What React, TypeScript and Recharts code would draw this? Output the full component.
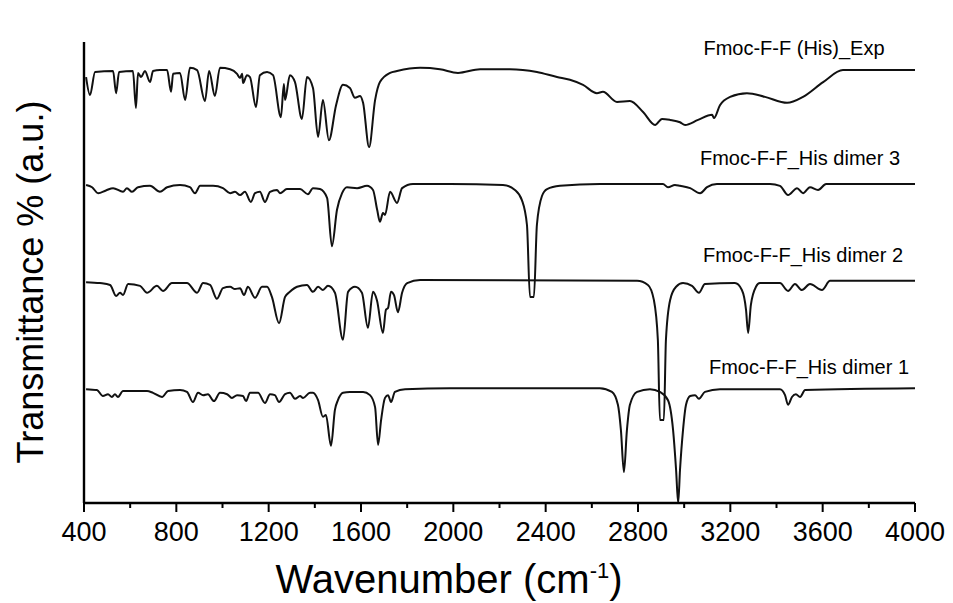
import { Line, LineChart, XAxis, YAxis } from "recharts";

// wavenumber (cm-1), transmittance (a.u., stacked)
const expSpectrum: [number, number][] = [
  [409, 92.4], [426, 88.5], [448, 93.5], [526, 93.7], [539, 88.9], [552, 93.5],
  [612, 93.7], [625, 85.7], [634, 93.3], [647, 92.4], [664, 93.7], [686, 91.3],
  [699, 93.7], [729, 93.9], [760, 93.9], [777, 89.2], [786, 93.1], [816, 93.3],
  [838, 87.4], [859, 94.4], [890, 93.9], [924, 87.2], [942, 93.7], [967, 88.3],
  [989, 94.4], [1033, 94.1], [1063, 93.1], [1076, 92.2], [1085, 93.1], [1089, 91.1],
  [1106, 92.8], [1119, 92.4], [1145, 85.9], [1162, 92.8], [1193, 93.5], [1219, 92.8],
  [1253, 83.7], [1266, 90.9], [1271, 87.4], [1292, 92.8], [1314, 91.3], [1344, 83.3],
  [1366, 92.4], [1392, 90.0], [1414, 79.4], [1435, 87.4], [1461, 78.7], [1492, 86.3],
  [1522, 90.7], [1552, 90.0], [1574, 87.9], [1596, 88.3], [1609, 86.8], [1635, 77.2],
  [1661, 87.4], [1682, 91.3], [1726, 93.3], [1756, 93.7], [1856, 94.4], [1942, 94.1],
  [2020, 93.3], [2116, 94.1], [2245, 94.1], [2362, 93.5], [2449, 92.4], [2505, 91.8],
  [2562, 90.7], [2622, 88.9], [2648, 89.2], [2709, 87.0], [2765, 87.2], [2822, 84.8],
  [2874, 82.0], [2904, 83.3], [2939, 83.1], [2982, 82.6], [3004, 82.0], [3060, 83.1],
  [3121, 84.2], [3129, 83.5], [3155, 86.3], [3199, 88.1], [3272, 88.9], [3350, 88.1],
  [3446, 86.8], [3515, 88.1], [3602, 91.3], [3688, 93.9], [3849, 93.9], [4000, 93.9],
];

const dimer3: [number, number][] = [
  [409, 69.0], [435, 68.5], [461, 67.2], [495, 67.8], [526, 68.3], [569, 67.5],
  [586, 68.3], [608, 67.5], [634, 68.5], [686, 68.8], [729, 67.5], [760, 68.5],
  [816, 69.0], [859, 68.5], [881, 67.2], [903, 68.8], [959, 68.8], [1002, 68.3],
  [1033, 67.2], [1054, 67.5], [1076, 66.8], [1097, 67.5], [1123, 65.3], [1141, 67.2],
  [1162, 67.5], [1184, 65.3], [1206, 67.5], [1236, 67.9], [1249, 67.2], [1279, 68.1],
  [1336, 68.1], [1370, 67.0], [1392, 68.3], [1422, 68.1], [1453, 66.2], [1474, 55.7],
  [1496, 63.6], [1518, 67.2], [1539, 68.5], [1583, 68.3], [1626, 68.8], [1652, 67.9],
  [1670, 63.6], [1682, 61.0], [1695, 62.9], [1704, 62.5], [1726, 67.5], [1756, 65.1],
  [1778, 68.3], [1825, 69.2], [1986, 69.2], [2215, 69.0], [2267, 67.9], [2297, 65.7],
  [2319, 60.3], [2332, 44.7], [2349, 44.7], [2362, 60.3], [2384, 66.6], [2406, 68.1],
  [2462, 68.8], [2635, 69.2], [2908, 69.2], [2930, 68.5], [2960, 69.0], [2982, 68.8],
  [3026, 68.3], [3069, 67.2], [3099, 68.5], [3142, 69.2], [3372, 69.2], [3415, 68.8],
  [3450, 66.8], [3489, 68.3], [3515, 67.2], [3545, 68.5], [3580, 67.9], [3615, 69.2],
  [4000, 69.2],
];

const dimer2: [number, number][] = [
  [409, 47.9], [469, 47.7], [513, 47.3], [539, 44.9], [556, 45.6], [569, 45.1],
  [591, 47.5], [643, 47.1], [673, 45.6], [716, 47.1], [742, 46.0], [781, 47.7],
  [846, 47.7], [890, 45.6], [916, 47.7], [946, 47.3], [976, 44.3], [1002, 46.6],
  [1033, 46.9], [1054, 46.4], [1076, 46.6], [1093, 45.1], [1110, 46.9], [1141, 44.5],
  [1171, 46.9], [1193, 46.9], [1214, 44.7], [1245, 39.0], [1271, 44.7], [1292, 45.8],
  [1323, 46.9], [1366, 47.3], [1392, 45.8], [1414, 46.9], [1435, 46.2], [1457, 47.1],
  [1487, 45.6], [1522, 35.4], [1544, 45.8], [1574, 46.9], [1604, 45.6], [1630, 38.0],
  [1652, 45.8], [1669, 44.0], [1695, 36.9], [1708, 41.9], [1717, 42.3], [1730, 45.8],
  [1743, 45.1], [1760, 41.4], [1778, 45.6], [1800, 47.7], [1856, 48.4], [2796, 48.2],
  [2843, 47.3], [2869, 44.0], [2886, 35.4], [2895, 18.0], [2912, 18.0], [2921, 35.4],
  [2939, 44.0], [2965, 46.9], [2995, 47.7], [3034, 47.1], [3064, 45.6], [3090, 47.5],
  [3220, 47.7], [3250, 46.2], [3268, 41.9], [3277, 36.9], [3289, 43.0], [3311, 46.9],
  [3328, 47.7], [3415, 47.7], [3450, 46.0], [3480, 47.5], [3510, 46.2], [3545, 47.5],
  [3597, 46.2], [3632, 48.2], [4000, 48.2],
];

const dimer1: [number, number][] = [
  [409, 24.7], [456, 24.5], [482, 23.2], [504, 23.6], [521, 23.0], [534, 23.6],
  [547, 23.0], [569, 24.3], [673, 24.3], [699, 23.9], [738, 23.0], [764, 24.3],
  [816, 24.5], [846, 24.1], [872, 21.9], [894, 23.9], [916, 23.4], [937, 23.6],
  [963, 22.1], [989, 23.9], [1020, 23.6], [1041, 22.8], [1063, 23.4], [1089, 23.2],
  [1102, 22.1], [1119, 23.9], [1154, 23.9], [1184, 21.7], [1206, 23.6], [1227, 23.4],
  [1245, 21.9], [1271, 23.6], [1292, 23.9], [1314, 22.6], [1336, 23.2], [1349, 22.8],
  [1379, 23.9], [1392, 23.9], [1414, 22.3], [1435, 18.7], [1448, 19.1], [1470, 12.4],
  [1487, 20.2], [1500, 22.3], [1522, 23.9], [1552, 24.1], [1609, 24.1], [1639, 23.4],
  [1661, 20.8], [1674, 12.6], [1687, 18.0], [1704, 22.8], [1717, 23.4], [1730, 21.9],
  [1747, 24.1], [1791, 24.7], [1986, 24.9], [2635, 24.9], [2687, 24.1], [2713, 21.3],
  [2726, 15.8], [2739, 6.7], [2752, 15.8], [2765, 21.3], [2796, 24.1], [2852, 24.7],
  [2895, 24.1], [2930, 22.3], [2952, 15.8], [2965, 7.2], [2974, 0], [2982, 7.2],
  [2995, 15.8], [3008, 21.3], [3026, 23.2], [3047, 23.4], [3064, 22.6], [3090, 24.1],
  [3155, 24.7], [3415, 24.7], [3437, 23.4], [3450, 21.3], [3467, 23.0], [3484, 23.6],
  [3502, 23.0], [3524, 24.5], [4000, 24.9],
];

const xTicks = [
  400, 600, 800, 1000, 1200, 1400, 1600, 1800, 2000, 2200, 2400, 2600, 2800,
  3000, 3200, 3400, 3600, 3800, 4000,
];

const seriesNames = [
  "Fmoc-F-F (His)_Exp",
  "Fmoc-F-F_His dimer 3",
  "Fmoc-F-F_His dimer 2",
  "Fmoc-F-F_His dimer 1",
];

const toRows = (pts: [number, number][]) => pts.map(([w, v]) => ({ w, v }));

const spectra = [expSpectrum, dimer3, dimer2, dimer1].map(toRows);

// label placement (centre x, centre y) in px
const labelPos = [
  [794, 48],
  [800, 158],
  [803, 255],
  [809, 367],
];

const AxisTick = (props: any) => {
  const { x, y, payload } = props;
  const major = payload.value % 400 === 0;
  return (
    <g>
      <line
        x1={x}
        x2={x}
        y1={y}
        y2={y + (major ? 9 : 5)}
        stroke="#000"
        strokeWidth={2}
      />
      {major && (
        <text
          x={x}
          y={y + 38}
          textAnchor="middle"
          fontSize={27}
          fontFamily="Arial, 'Liberation Sans', sans-serif"
          fill="#000"
        >
          {payload.value}
        </text>
      )}
    </g>
  );
};

export default function App() {
  return (
    <div
      style={{
        position: "relative",
        width: 953,
        height: 603,
        background: "#fff",
        fontFamily: "Arial, 'Liberation Sans', sans-serif",
      }}
    >
      <style>{"body{margin:0}"}</style>
      <LineChart
        width={953}
        height={603}
        margin={{ top: 42, right: 38, left: 24, bottom: 40 }}
      >
        <XAxis
          type="number"
          dataKey="w"
          domain={[400, 4000]}
          ticks={xTicks}
          interval={0}
          allowDataOverflow
          axisLine={{ stroke: "#000", strokeWidth: 2.4 }}
          tickLine={false}
          tickSize={0}
          tickMargin={0}
          tick={<AxisTick />}
          height={60}
        />
        <YAxis
          type="number"
          domain={[0, 100]}
          allowDataOverflow
          tick={false}
          tickLine={false}
          axisLine={{ stroke: "#000", strokeWidth: 2.4 }}
          width={60}
        />
        {spectra.map((rows, i) => (
          <Line
            key={seriesNames[i]}
            data={rows}
            dataKey="v"
            name={seriesNames[i]}
            type="monotone"
            stroke="#111"
            strokeWidth={2}
            dot={false}
            activeDot={false}
            isAnimationActive={false}
          />
        ))}
      </LineChart>

      {seriesNames.map((name, i) => (
        <div
          key={name}
          style={{
            position: "absolute",
            left: labelPos[i][0],
            top: labelPos[i][1],
            transform: "translate(-50%, -50%)",
            fontSize: 20,
            whiteSpace: "nowrap",
            color: "#000",
          }}
        >
          {name}
        </div>
      ))}

      <div
        style={{
          position: "absolute",
          left: 31,
          top: 282,
          transform: "translate(-50%, -50%) rotate(-90deg)",
          fontSize: 36,
          whiteSpace: "nowrap",
          color: "#000",
        }}
      >
        Transmittance % (a.u.)
      </div>

      <div
        style={{
          position: "absolute",
          left: 449,
          top: 579,
          transform: "translate(-50%, -50%)",
          fontSize: 40,
          whiteSpace: "nowrap",
          color: "#000",
        }}
      >
        Wavenumber (cm<sup style={{ fontSize: 22 }}>-1</sup>)
      </div>
    </div>
  );
}
